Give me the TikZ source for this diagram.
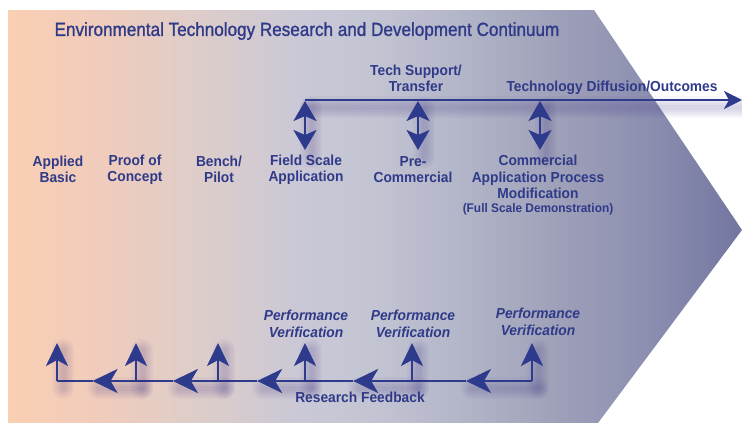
\documentclass[tikz,border=0pt]{standalone}
\usepackage{fontspec}
\setmainfont{Liberation Sans}
\newfontfamily\lblfont[FakeStretch=0.95]{Liberation Sans}
\newfontfamily\titlefont[FakeStretch=0.9, FakeBold=1.2]{Liberation Sans}
\usetikzlibrary{arrows.meta,calc}

% colours
\definecolor{ink}{HTML}{2E3A8C}
\definecolor{inktext}{HTML}{2F3A88}
\definecolor{shadowc}{HTML}{3E3285}
\definecolor{g0}{HTML}{FACFB3}
\definecolor{g1}{HTML}{F0CCBC}
\definecolor{g2}{HTML}{DDCDCA}
\definecolor{g3}{HTML}{CAC8D6}
\definecolor{g4}{HTML}{C3C5D3}
\definecolor{g5}{HTML}{B5B7CA}
\definecolor{g6}{HTML}{A0A2BA}
\definecolor{g7}{HTML}{8C8EB0}
\definecolor{g8}{HTML}{7276A0}

% left-to-right fill of the continuum band (stops between 25bp and 75bp span the shape)
\pgfdeclarehorizontalshading{continuum}{100bp}{%
  color(0bp)=(g0); color(25bp)=(g0); color(31.27bp)=(g1); color(38.08bp)=(g2);
  color(44.89bp)=(g3); color(49.66bp)=(g4); color(55.11bp)=(g5);
  color(61.93bp)=(g6); color(68.73bp)=(g7); color(75bp)=(g8); color(100bp)=(g8)}

\tikzset{
  upt/.tip={Stealth[length=23pt, width=22pt, inset=6pt]},
  leftt/.tip={Stealth[length=25pt, width=24pt, inset=7pt]},
  dblt/.tip={Stealth[length=20pt, width=23pt, inset=5pt]},
  endt/.tip={Stealth[length=18pt, width=18pt, inset=5pt]},
  flow/.style={draw=ink, line width=2.6pt},
  % soft drop shadow built from stacked translucent strokes (no tips, round ends)
  haze/.style={preaction={draw=shadowc, draw opacity=0.045, line width=#1, line join=round,
      line cap=round, arrows=-, transform canvas={shift={(6pt,-7pt)}}}},
  glow/.style={haze=22pt, haze=17pt, haze=13pt, haze=9pt, haze=5pt},
  lbl/.style={font=\lblfont\fontsize{14.5}{16.5}\selectfont\bfseries, text=inktext,
    align=center, inner sep=0pt},
  perf/.style={lbl, font=\lblfont\fontsize{14.5}{16.5}\selectfont\bfseries\itshape},
  small/.style={lbl, font=\lblfont\fontsize{12.5}{15}\selectfont\bfseries},
}

\begin{document}
\begin{tikzpicture}[x=1pt, y=-1pt]
\useasboundingbox (0,0) rectangle (742,423);

% background band with arrow-shaped right end
\shade[shading=continuum] (8,10) -- (594,10) -- (742,230) -- (598,423) -- (8,423) -- cycle;

% title
\node[font=\titlefont\fontsize{19}{21}\selectfont, text=inktext, inner sep=0pt] (title) at (307,31)
  {Environmental Technology Research and Development Continuum};

% stage labels
\node[lbl] (applied) at (58,169.5) {Applied\\Basic};
\node[lbl] (proof) at (135,169.5) {Proof of\\Concept};
\node[lbl] (bench) at (219,169.5) {Bench/\\Pilot};
\node[lbl] (field) at (306,169.5) {Field Scale\\Application};
\node[lbl] (precom) at (413,169.5) {Pre-\\Commercial};
\node[lbl] (commercial) at (538,177) {Commercial\\Application Process\\Modification};
\node[small] (fullscale) at (538,209) {(Full Scale Demonstration)};

% upper labels
\node[lbl] (support) at (416,78.5) {Tech Support/\\Transfer};
\node[lbl] (diffusion) at (612,88) {Technology Diffusion/Outcomes};

% lower labels
\node[perf] (perfA) at (306,324) {Performance\\Verification};
\node[perf] (perfB) at (413,324) {Performance\\Verification};
\node[perf] (perfC) at (538,322) {Performance\\Verification};
\node[lbl] (feedback) at (360,397) {Research Feedback};

% technology diffusion line
\coordinate (t1) at (305,100);
\coordinate (t2) at (418,100);
\coordinate (t3) at (540,100);
\coordinate (tend) at (742,100);
\draw[flow, glow, -endt] (t1) -- (tend);

% two-way links between the diffusion line and the stages
\coordinate (d1) at (305,150);
\coordinate (d2) at (418,150);
\coordinate (d3) at (540,150);
\draw[flow, glow, dblt-dblt] ($(t1)+(0,1)$) -- (d1);
\draw[flow, glow, dblt-dblt] ($(t2)+(0,1)$) -- (d2);
\draw[flow, glow, dblt-dblt] ($(t3)+(0,1)$) -- (d3);

% research feedback line
\coordinate (f1) at (57,381);
\coordinate (f2) at (136,381);
\coordinate (f3) at (218,381);
\coordinate (f4) at (305,381);
\coordinate (f5) at (412,381);
\coordinate (f6) at (532,381);
\coordinate (u1) at (57,343);
\coordinate (u2) at (136,343);
\coordinate (u3) at (218,343);
\coordinate (u4) at (305,343);
\coordinate (u5) at (412,343);
\coordinate (u6) at (532,343);

\foreach \a/\b in {f6/f5, f5/f4, f4/f3, f3/f2, f2/f1} {
  \coordinate (m) at ($(\a)!0.55!(\b)$);
  \draw[flow, glow, -leftt] (\a) -- (m);
  \draw[flow] (m) -- (\b);
}
\foreach \i in {1,...,6} {
  \draw[flow, glow, -upt] (f\i) -- (u\i);
}
\end{tikzpicture}
\end{document}
